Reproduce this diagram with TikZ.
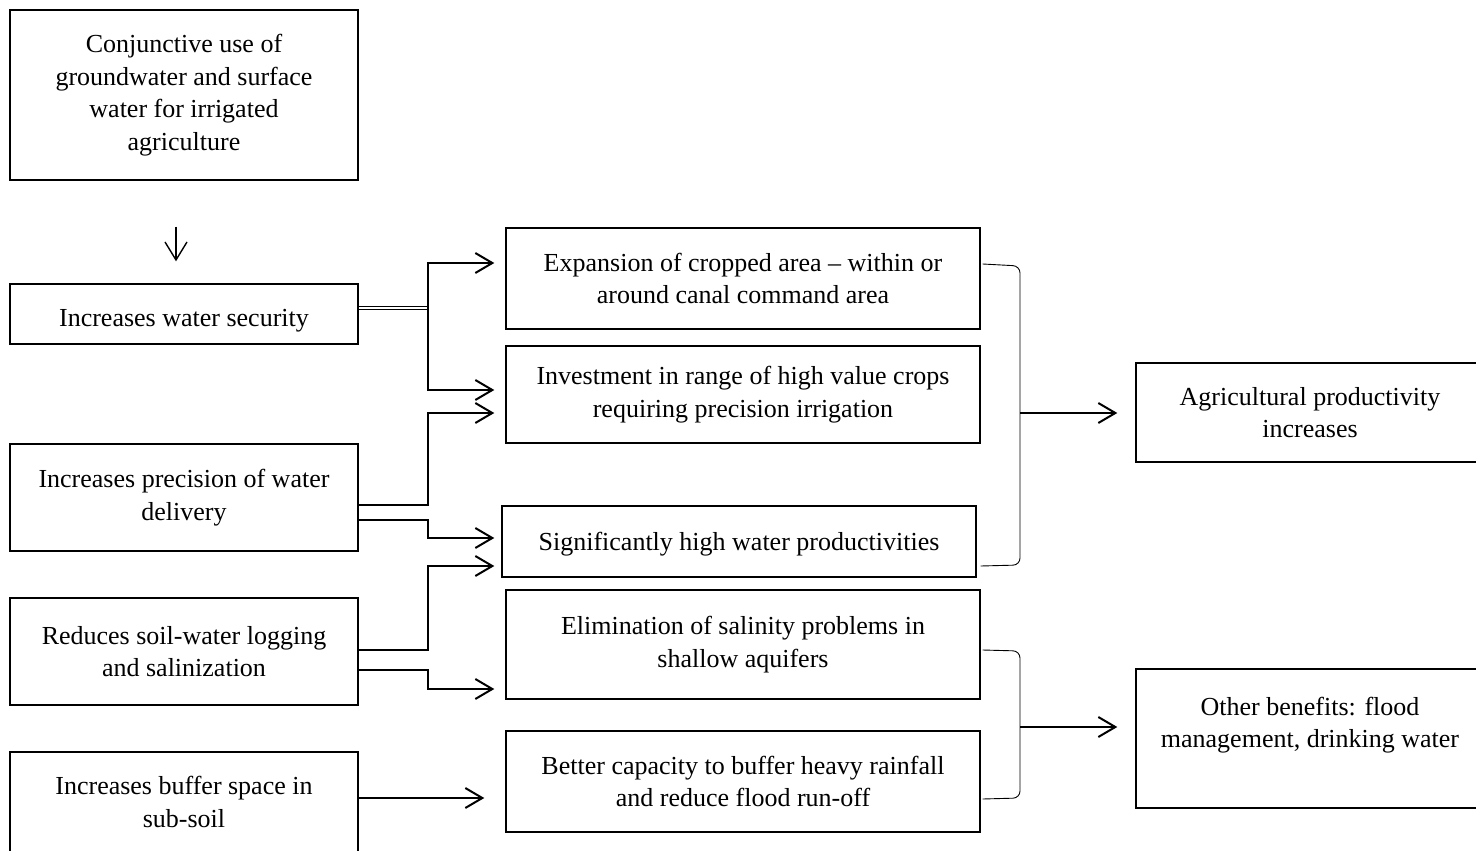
\documentclass[tikz,border=0pt]{standalone}
\usepackage{fontspec}
\setmainfont{Liberation Serif}
\usetikzlibrary{arrows.meta}
\begin{document}
\begin{tikzpicture}[x=1pt,y=-1pt,
  box/.style={draw,line width=1.4pt,align=center,inner sep=0pt,
    font=\fontsize{26pt}{32.5pt}\selectfont},
  lbox/.style={box,minimum width=348pt},
  mbox/.style={box,minimum width=474pt},
  rbox/.style={box,minimum width=348pt},
  arr/.style={line width=2pt,-{Straight Barb[length=17pt,width=20pt]}},
  dbl/.style={line width=1.1pt,double,double distance=1.2pt},
  brace/.style={line width=0.9pt,rounded corners=7pt},
  thinarr/.style={line width=1.4pt,-{Straight Barb[length=18pt,width=22pt]}}]
\useasboundingbox (0,0) rectangle (1476,851);
\clip (0,0) rectangle (1476,851);
% left column
\node[lbox,minimum height=170pt] (top) at (184,95) {Conjunctive use of\\groundwater and surface\\water for irrigated\\agriculture};
\node[lbox,minimum height=60pt,text height=30pt,text depth=6pt] (ws) at (184,314) {Increases water security};
\node[lbox,minimum height=107pt] (prec) at (184,497.5) {Increases precision of water\\delivery};
\node[lbox,minimum height=107pt] (soil) at (184,651.5) {Reduces soil-water logging\\and salinization};
\node[lbox,minimum height=100pt] (buf) at (184,802) {Increases buffer space in\\sub-soil};
% middle column
\node[mbox,minimum height=101pt] (exp) at (743,278.5) {Expansion of cropped area – within or\\around canal command area};
\node[mbox,minimum height=97pt] (inv) at (743,394.5) {Investment in range of high value crops\\requiring precision irrigation};
\node[mbox,minimum height=71pt,text height=24pt,text depth=6pt] (sig) at (739,541.5) {Significantly high water productivities};
\node[mbox,minimum height=109pt] (elim) at (743,644.5) {Elimination of salinity problems in\\shallow aquifers};
\node[mbox,minimum height=101pt] (bet) at (743,781.5) {Better capacity to buffer heavy rainfall\\and reduce flood run-off};
% right column
\node[rbox,minimum height=99pt] (agr) at (1310,412.5) {Agricultural productivity\\increases};
\node[rbox,minimum height=139pt] (oth) at (1310,738.5) {Other benefits: flood\\management, drinking water\\\mbox{}};
% down arrow
\draw[thinarr] ([xshift=-8pt,yshift=-46pt]top.south) -- ([xshift=-8pt,yshift=22pt]ws.north);
% water security
\draw[dbl] ([yshift=6pt]ws.east) -- ++(69,0) coordinate (j1);
\draw[arr] (j1) |- ([xshift=-11pt,yshift=15.5pt]exp.west);
\draw[arr] (j1) |- ([xshift=-11pt,yshift=4.5pt]inv.west);
% precision
\draw[arr] ([yshift=-7.5pt]prec.east) -- ++(69,0) |- ([xshift=-11pt,yshift=-18.5pt]inv.west);
\draw[arr] ([yshift=-22.5pt]prec.east) -- ++(69,0) |- ([xshift=-7pt,yshift=3.5pt]sig.west);
% soil
\draw[arr] ([yshift=1.5pt]soil.east) -- ++(69,0) |- ([xshift=-7pt,yshift=-24.5pt]sig.west);
\draw[arr] ([yshift=-18.5pt]soil.east) -- ++(69,0) |- ([xshift=-11pt,yshift=-44.5pt]elim.west);
% buffer
\draw[arr] ([yshift=4pt]buf.east) -- ([xshift=-21pt,yshift=-16.5pt]bet.west);
% braces
\draw[brace] ([xshift=2pt,yshift=14.5pt]exp.east) -- (1020,266) -- (1020,565) -- ([xshift=4pt,yshift=-24.5pt]sig.east);
\draw[arr] (1020,413) coordinate (b1) -- ([xshift=-18pt]agr.west |- b1);
\draw[brace] ([xshift=2pt,yshift=-5.5pt]elim.east) -- (1020,651) -- (1020,798) -- ([xshift=2pt,yshift=-17.5pt]bet.east);
\draw[arr] (1020,727) coordinate (b2) -- ([xshift=-18pt]oth.west |- b2);
\end{tikzpicture}
\end{document}
